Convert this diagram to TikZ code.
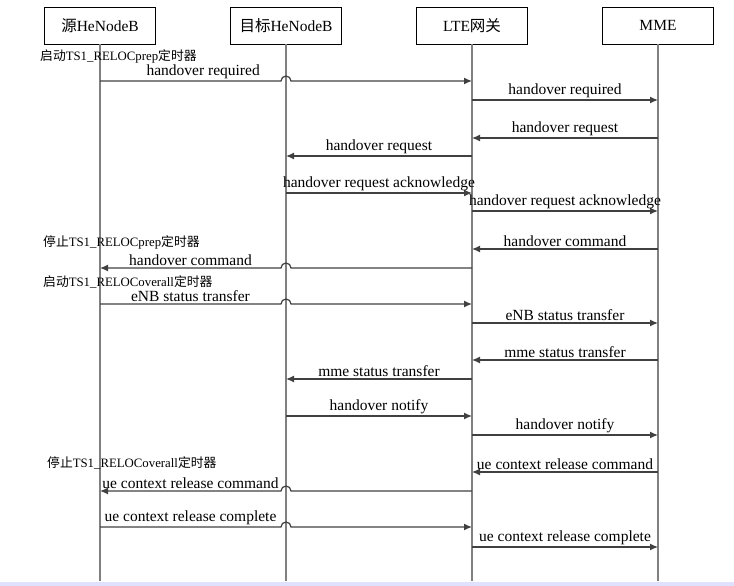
\documentclass[tikz,border=0pt]{standalone}
\usepackage{fontspec}
\setmainfont{Liberation Serif}
\newfontfamily\cjk{Noto Sans CJK SC}
\usetikzlibrary{calc,arrows.meta}

\begin{document}
\begin{tikzpicture}[x=1pt,y=-1pt,
ent/.style={draw, fill=white, minimum width=111pt, minimum height=37pt, inner sep=0, font=\fontsize{15.5}{16}\selectfont},
life/.style={draw=black!50, line width=1.8pt},
msg/.style={draw=black!75, line width=1.2pt, -{Latex[length=8pt,width=7pt]}},
lab/.style={above, inner sep=1.5pt, font=\fontsize{15.5}{16}\selectfont},
tmr/.style={anchor=west, inner sep=0, font=\fontsize{12.8}{13}\selectfont}]
	\useasboundingbox (0,0) rectangle (734,586);
	\fill[blue!12] (0,582) rectangle (734,586);

	\node[ent] at (100,25.5) (src) {{\cjk 源}HeNodeB};
	\node[ent] at (286,25.5) (tgt) {{\cjk 目标}HeNodeB};
	\node[ent] at (472,25.5) (gw) {LTE{\cjk 网关}};
	\node[ent] at (658,25.5) (mme) {MME};
	\foreach \n/\x in {src/100,tgt/286,gw/472,mme/658} {
		\coordinate (\n-end) at (\x,581);
		\draw[life] (\n.south) -- (\n-end);
	}

	% timers
	\node[tmr] at (40,56) (t1) {{\cjk 启动}TS1\_RELOCprep{\cjk 定时器}};
	\node[tmr] at (43,242) (t2) {{\cjk 停止}TS1\_RELOCprep{\cjk 定时器}};
	\node[tmr] at (43,282) (t3) {{\cjk 启动}TS1\_RELOCoverall{\cjk 定时器}};
	\node[tmr] at (47,463) (t4) {{\cjk 停止}TS1\_RELOCoverall{\cjk 定时器}};

	% preparation
	\draw[msg] (src |- 0,81) -- node[lab, pos=0.57] {handover required} ([xshift=-5pt]tgt |- 0,81) arc[start angle=180, end angle=0, radius=5pt] -- (gw |- 0,81);
	\draw[msg] (gw |- 0,100) -- node[lab] {handover required} (mme |- 0,100);
	\draw[msg] (mme |- 0,138) -- node[lab] {handover request} (gw |- 0,138);
	\draw[msg] (gw |- 0,156) -- node[lab] {handover request} (tgt |- 0,156);
	\draw[msg] (tgt |- 0,193) -- node[lab] {handover request acknowledge} (gw |- 0,193);
	\draw[msg] (gw |- 0,211) -- node[lab] {handover request acknowledge} (mme |- 0,211);
	\draw[msg] (mme |- 0,249) -- node[lab] {handover command} (gw |- 0,249);
	\draw[msg] (gw |- 0,268) -- ([xshift=5pt]tgt |- 0,268) arc[start angle=0, end angle=180, radius=5pt] -- node[lab] {handover command} (src |- 0,268);

	% execution
	\draw[msg] (src |- 0,304) -- node[lab] {eNB status transfer} ([xshift=-5pt]tgt |- 0,304) arc[start angle=180, end angle=0, radius=5pt] -- (gw |- 0,304);
	\draw[msg] (gw |- 0,323) -- node[lab] {eNB status transfer} (mme |- 0,323);
	\draw[msg] (mme |- 0,360) -- node[lab] {mme status transfer} (gw |- 0,360);
	\draw[msg] (gw |- 0,379) -- node[lab] {mme status transfer} (tgt |- 0,379);
	\draw[msg] (tgt |- 0,416) -- node[lab] {handover notify} (gw |- 0,416);
	\draw[msg] (gw |- 0,435) -- node[lab] {handover notify} (mme |- 0,435);

	% release
	\draw[msg] (mme |- 0,472) -- node[lab] {ue context release command} (gw |- 0,472);
	\draw[msg] (gw |- 0,491) -- ([xshift=5pt]tgt |- 0,491) arc[start angle=0, end angle=180, radius=5pt] -- node[lab] {ue context release command} (src |- 0,491);
	\draw[msg] (src |- 0,527) -- node[lab] {ue context release complete} ([xshift=-5pt]tgt |- 0,527) arc[start angle=180, end angle=0, radius=5pt] -- (gw |- 0,527);
	\draw[msg] (gw |- 0,547) -- node[lab] {ue context release complete} (mme |- 0,547);
\end{tikzpicture}
\end{document}
